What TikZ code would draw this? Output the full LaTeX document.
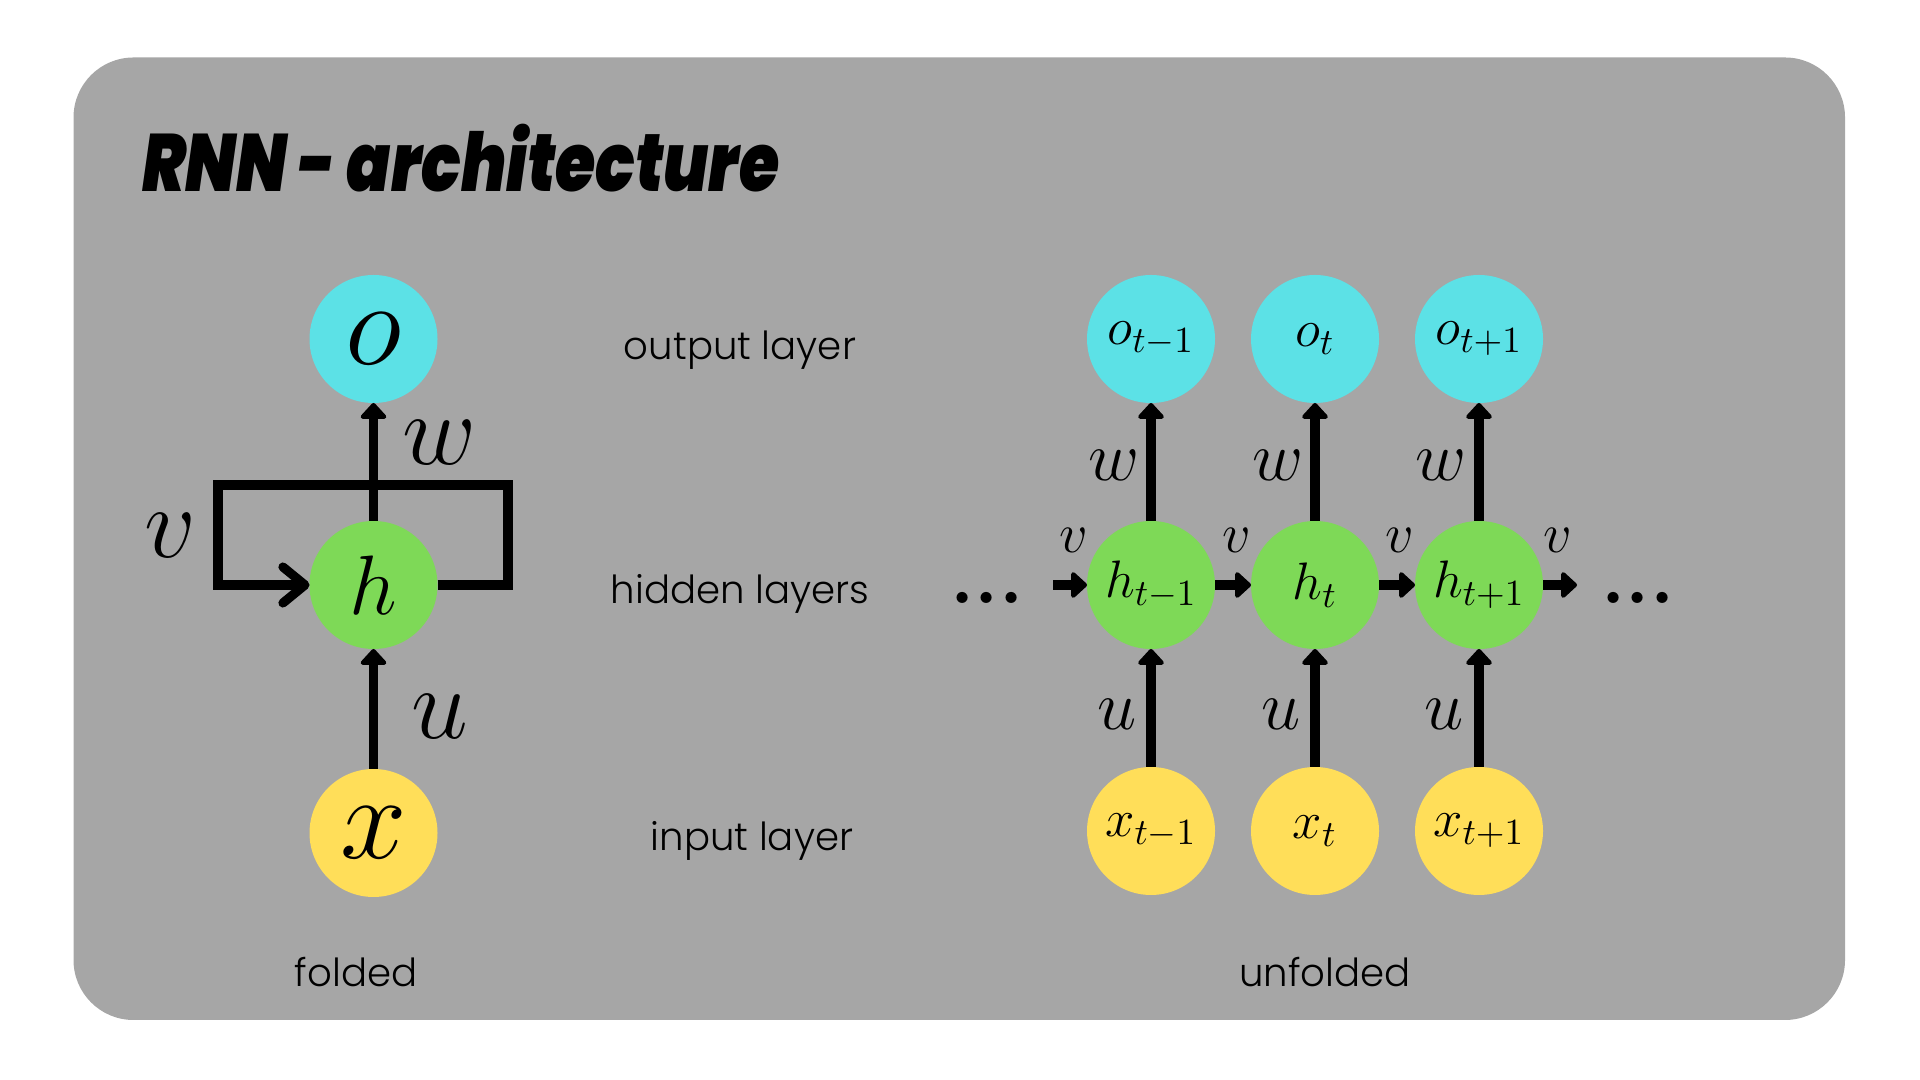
\documentclass[tikz,border=0pt]{standalone}
\usepackage{fix-cm}
\usepackage{fontspec}
\usepackage{tikz}
\newfontfamily\handfont{Poppins Light}
\newfontfamily\titlefont{Poppins Black Italic}
\definecolor{panelgray}{RGB}{166, 166, 166}
\definecolor{outcyan}{RGB}{92, 225, 230}
\definecolor{hidgreen}{RGB}{126, 217, 87}
\definecolor{inyellow}{RGB}{255, 222, 89}
\usetikzlibrary{arrows.meta, positioning}

\begin{document}
\begin{tikzpicture}[
    node distance=0.36cm,
    unit/.style={circle, minimum size=1.28cm, inner sep=0pt, outer sep=0pt},
    outunit/.style={unit, fill=outcyan},
    hidunit/.style={unit, fill=hidgreen},
    inunit/.style={unit, fill=inyellow},
    conn/.style={line width=2.6pt, -{Triangle[length=0.17cm, width=0.3cm, round]}},
    layerlabel/.style={font=\handfont\fontsize{11}{11}\selectfont, anchor=base},
    bigweight/.style={font=\fontsize{29}{29}\selectfont, inner sep=0pt},
    weight/.style={font=\fontsize{20}{20}\selectfont, inner sep=0pt},
    recweight/.style={font=\fontsize{16}{16}\selectfont, inner sep=0pt},
    dotsym/.style={font=\fontsize{22}{22}\selectfont\bfseries, inner sep=0pt},
]
    \useasboundingbox (0,0) rectangle (19.2,10.8);
    \fill[panelgray, rounded corners=0.6cm] (0.735,0.6) rectangle (18.45,10.225);

    % Header
    \node[font=\titlefont\fontsize{18.5}{18.5}\selectfont, anchor=base west, yscale=1.25, transform shape] (title) at (1.30,8.88) {RNN - architecture};

    % Folded
    \node[outunit, font=\fontsize{34}{34}\selectfont] (o) at (3.735,7.41) {$o$};
    \node[hidunit, font=\fontsize{24}{24}\selectfont] (h) at (3.735,4.95) {$h$};
    \node[inunit, font=\fontsize{34}{34}\selectfont] (x) at (3.735,2.47) {$x$};

    \coordinate (loopR) at (5.08,5.95);
    \coordinate (loopL) at (2.18,5.95);
    \draw[line width=2.6pt, line join=miter, -{Straight Barb[length=0.22cm, width=0.36cm, round]}]
        (h.east) -| (loopR) -- (loopL) |- (h.west);
    \draw[conn] (h.north) -- (o.south);
    \draw[conn] (x.north) -- (h.south);

    \node[bigweight] (wf) at (4.40,6.37) {$w$};
    \node[bigweight] (vf) at (1.70,5.44) {$v$};
    \node[bigweight] (uf) at (4.40,3.63) {$u$};

    % Layer names
    \node[layerlabel] (outname) at (7.40,7.20) {output layer};
    \node[layerlabel] (hidname) at (7.40,4.76) {hidden layers};
    \node[layerlabel] (inname) at (7.52,2.29) {input layer};

    % Unfolded
    \node[hidunit, font=\fontsize{15}{15}\selectfont] (h1) at (11.51,4.95) {$h_{t-1}$};
    \node[hidunit, font=\fontsize{15}{15}\selectfont, right=of h1] (h2) {$h_t$};
    \node[hidunit, font=\fontsize{15}{15}\selectfont, right=of h2] (h3) {$h_{t+1}$};
    \node[outunit, font=\fontsize{15}{15}\selectfont, above=1.18cm of h1] (o1) {$o_{t-1}$};
    \node[outunit, font=\fontsize{15}{15}\selectfont, above=1.18cm of h2] (o2) {$o_t$};
    \node[outunit, font=\fontsize{15}{15}\selectfont, above=1.18cm of h3] (o3) {$o_{t+1}$};
    \node[inunit, font=\fontsize{15}{15}\selectfont, below=1.18cm of h1] (x1) {$x_{t-1}$};
    \node[inunit, font=\fontsize{15}{15}\selectfont, below=1.18cm of h2] (x2) {$x_t$};
    \node[inunit, font=\fontsize{15}{15}\selectfont, below=1.18cm of h3] (x3) {$x_{t+1}$};

    \coordinate (hin) at (10.53,4.95);
    \coordinate (hout) at (15.77,4.95);
    \draw[conn] (hin) -- (h1.west);
    \draw[conn] (h1.east) -- (h2.west);
    \draw[conn] (h2.east) -- (h3.west);
    \draw[conn] (h3.east) -- (hout);
    \draw[conn] (h1.north) -- (o1.south);
    \draw[conn] (h2.north) -- (o2.south);
    \draw[conn] (h3.north) -- (o3.south);
    \draw[conn] (x1.north) -- (h1.south);
    \draw[conn] (x2.north) -- (h2.south);
    \draw[conn] (x3.north) -- (h3.south);

    \node[weight] (w1) at (11.14,6.15) {$w$};
    \node[weight] (w2) at (12.78,6.15) {$w$};
    \node[weight] (w3) at (14.41,6.15) {$w$};
    \node[weight] (u1) at (11.17,3.66) {$u$};
    \node[weight] (u2) at (12.81,3.66) {$u$};
    \node[weight] (u3) at (14.44,3.66) {$u$};
    \node[recweight] (v1) at (10.74,5.40) {$v$};
    \node[recweight] (v2) at (12.37,5.40) {$v$};
    \node[recweight] (v3) at (14.00,5.40) {$v$};
    \node[recweight] (v4) at (15.58,5.40) {$v$};

    \node[dotsym, anchor=base] (ldots) at (9.87,4.76) {...};
    \node[dotsym, anchor=base] (rdots) at (16.38,4.76) {...};

    % Captions
    \node[layerlabel] (foldname) at (3.56,0.93) {folded};
    \node[layerlabel] (unfoldname) at (13.25,0.93) {unfolded};

\end{tikzpicture}
\end{document}
